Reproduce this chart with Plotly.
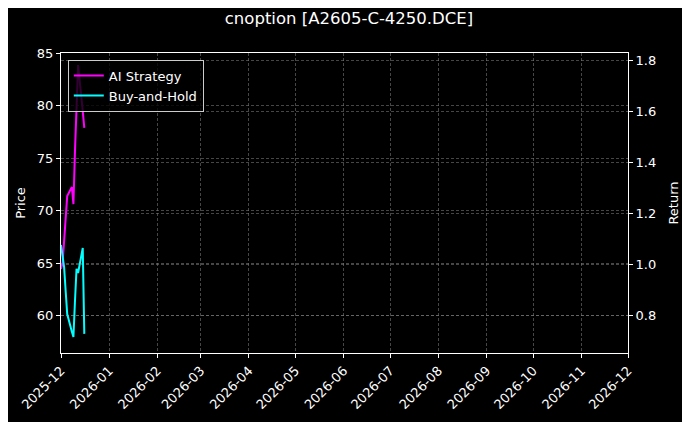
import plotly.graph_objects as go

dates = ["2025-12-01", "2025-12-02", "2025-12-03", "2025-12-04", "2025-12-05",
         "2025-12-08", "2025-12-09", "2025-12-10", "2025-12-11", "2025-12-12",
         "2025-12-15", "2025-12-16"]

ai_strategy = [0.982, 1.005, 1.091, 1.201, 1.268, 1.303, 1.236, 1.444, 1.621, 1.782, 1.601, 1.535]
buy_and_hold = [1.076, 1.029, 0.989, 0.895, 0.805, 0.735, 0.715, 0.856, 0.982, 0.966, 1.064, 0.727]

price_ticks = [60, 65, 70, 75, 80, 85]
return_ticks = [0.8, 1.0, 1.2, 1.4, 1.6, 1.8]

font = "DejaVu Sans"
grid = "rgba(128,128,128,0.55)"

fig = go.Figure()

# empty price axis so the left scale is drawn
fig.add_trace(go.Scatter(x=[dates[0]], y=[None], yaxis="y", showlegend=False,
                         hoverinfo="skip"))

fig.add_trace(go.Scatter(x=dates, y=ai_strategy, mode="lines", name="AI Strategy",
                         line=dict(color="#ff00ff", width=2), yaxis="y2"))
fig.add_trace(go.Scatter(x=dates, y=buy_and_hold, mode="lines", name="Buy-and-Hold",
                         line=dict(color="#00ffff", width=2), yaxis="y2"))

axis_common = dict(showline=True, linecolor="white", linewidth=1,
                   ticks="outside", tickcolor="white", ticklen=4,
                   showgrid=True, gridcolor=grid, griddash="3px,2px", gridwidth=0.5,
                   zeroline=False, automargin=False, tickfont=dict(size=13))

# page body has an 8px margin, so the figure is a bit smaller than the window
fig.update_layout(
    width=682, height=414,
    paper_bgcolor="black", plot_bgcolor="black",
    font=dict(family=font, color="white", size=13),
    title=dict(text="cnoption [A2605-C-4250.DCE]", x=0.5, xanchor="center",
               y=0.976, yanchor="middle", font=dict(size=16.5, color="white"),
               automargin=False),
    margin=dict(l=53, r=62, t=45, b=69, autoexpand=False),
    showlegend=True,
    legend=dict(x=0.012, y=0.978, xanchor="left", yanchor="top",
                bgcolor="rgba(0,0,0,0.8)", bordercolor="#cccccc", borderwidth=1,
                font=dict(size=13, color="white"), tracegroupgap=0,
                itemwidth=30),
    xaxis=dict(type="date", range=["2025-12-01", "2026-12-01"], dtick="M1",
               tick0="2025-12-01", tickformat="%Y-%m", tickangle=-45,
               mirror=True, **axis_common),
    yaxis=dict(title=dict(text="Price", standoff=8, font=dict(size=13)),
               range=[56.44, 85.0], tickvals=price_ticks,
               mirror=True, **axis_common),
    yaxis2=dict(title=dict(text="Return", standoff=13, font=dict(size=13)),
                range=[0.652, 1.829], tickvals=return_ticks, tickformat=".1f",
                overlaying="y", side="right", **axis_common),
)

fig.write_html("out.html")
